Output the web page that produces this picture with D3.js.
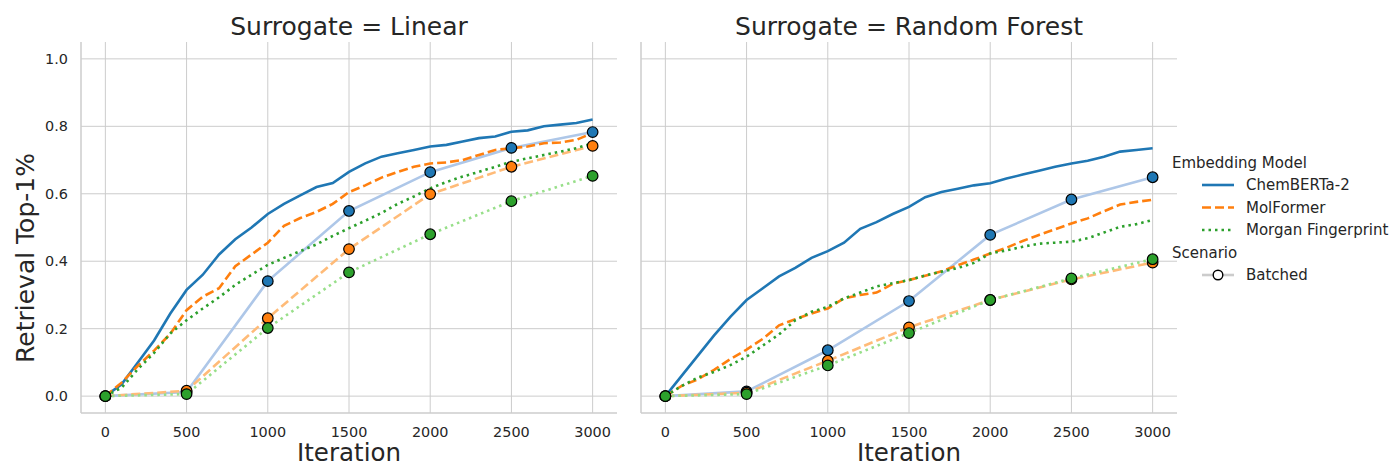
<!DOCTYPE html>
<html>
<head>
<meta charset="utf-8">
<script src="https://cdn.jsdelivr.net/npm/d3@7"></script>
<style>
  body { margin: 0; background: #fff; }
  svg { font-family: "DejaVu Sans", sans-serif; }
</style>
</head>
<body>
<svg id="svg" width="1396" height="468"></svg>
<script>
var width = 1396;
var height = 468;

// sequential runs, one value every 100 iterations
var iterations = d3.range(0, 3001, 100);
var batchIterations = [0, 500, 1000, 1500, 2000, 2500, 3000];
var models = ['ChemBERTa-2', 'MolFormer', 'Morgan Fingerprint'];
var surrogates = ['Linear', 'Random Forest'];

var linChem = [0, 0.035, 0.10, 0.165, 0.245, 0.315, 0.36, 0.42, 0.465, 0.50, 0.54, 0.57, 0.595, 0.62, 0.632, 0.665,
    0.69, 0.71, 0.72, 0.73, 0.74, 0.745, 0.755, 0.765, 0.77, 0.784, 0.788, 0.80, 0.805, 0.81, 0.82];
var linMol = [0, 0.04, 0.09, 0.135, 0.185, 0.255, 0.295, 0.32, 0.385, 0.42, 0.455, 0.505, 0.528, 0.546, 0.57, 0.605,
    0.625, 0.648, 0.665, 0.68, 0.69, 0.693, 0.70, 0.715, 0.73, 0.735, 0.74, 0.75, 0.752, 0.76, 0.78];
var linMorgan = [0, 0.025, 0.08, 0.128, 0.186, 0.225, 0.26, 0.293, 0.33, 0.36, 0.389, 0.41, 0.43, 0.45, 0.475, 0.498,
    0.52, 0.543, 0.57, 0.592, 0.616, 0.635, 0.651, 0.665, 0.68, 0.695, 0.705, 0.715, 0.725, 0.735, 0.75];
var rfChem = [0, 0.06, 0.12, 0.18, 0.235, 0.285, 0.32, 0.355, 0.38, 0.41, 0.43, 0.455, 0.496, 0.516, 0.54, 0.561,
    0.59, 0.605, 0.615, 0.625, 0.631, 0.645, 0.657, 0.668, 0.68, 0.69, 0.698, 0.71, 0.725, 0.73, 0.735];
var rfMol = [0, 0.03, 0.05, 0.078, 0.11, 0.138, 0.17, 0.21, 0.228, 0.245, 0.26, 0.29, 0.30, 0.307, 0.333, 0.344,
    0.357, 0.37, 0.388, 0.405, 0.423, 0.44, 0.46, 0.478, 0.495, 0.512, 0.527, 0.548, 0.568, 0.576, 0.582];
var rfMorgan = [0, 0.03, 0.055, 0.072, 0.092, 0.117, 0.15, 0.183, 0.225, 0.25, 0.265, 0.29, 0.307, 0.325, 0.335, 0.344,
    0.358, 0.369, 0.38, 0.395, 0.423, 0.432, 0.443, 0.452, 0.455, 0.458, 0.468, 0.485, 0.502, 0.51, 0.522];

// batched runs
var linChemB = [0, 0.012, 0.341, 0.549, 0.664, 0.736, 0.783];
var linMolB = [0, 0.016, 0.231, 0.436, 0.599, 0.68, 0.742];
var linMorganB = [0, 0.006, 0.202, 0.367, 0.48, 0.578, 0.653];
var rfChemB = [0, 0.014, 0.136, 0.282, 0.478, 0.583, 0.649];
var rfMolB = [0, 0.01, 0.105, 0.204, 0.285, 0.346, 0.396];
var rfMorganB = [0, 0.006, 0.091, 0.187, 0.285, 0.349, 0.406];

var xTicks = [0, 500, 1000, 1500, 2000, 2500, 3000];
var yTicks = [0, 0.2, 0.4, 0.6, 0.8, 1.0];

var seqData = [[linChem, linMol, linMorgan], [rfChem, rfMol, rfMorgan]];
var batchData = [[linChemB, linMolB, linMorganB], [rfChemB, rfMolB, rfMorganB]];

var dark = ['#1f77b4', '#ff7f0e', '#2ca02c'];
var light = ['#aec7e8', '#ffbb78', '#98df8a'];
var dashSeq = [null, '9,4', '2.5,4'];
var dashBatch = [null, '9,4', '2.5,4'];

var panelLeft = [81, 641];
var panelW = 536;
var plotTop = 42, plotBottom = 413;

var svg = d3.select('svg');

var y = d3.scaleLinear().domain([-0.05, 1.05]).range([plotBottom, plotTop]);

surrogates.forEach(function (s, p) {
    var x = d3.scaleLinear().domain([-150, 3150]).range([panelLeft[p], panelLeft[p] + panelW]);
    var g = svg.append('g');

    // grid
    g.selectAll('.gx').data(xTicks).enter().append('line')
        .attr('x1', function (d) { return x(d); }).attr('x2', function (d) { return x(d); })
        .attr('y1', plotTop).attr('y2', plotBottom)
        .attr('stroke', '#cccccc').attr('stroke-width', 1);
    g.selectAll('.gy').data(yTicks).enter().append('line')
        .attr('x1', panelLeft[p]).attr('x2', panelLeft[p] + panelW)
        .attr('y1', function (d) { return y(d); }).attr('y2', function (d) { return y(d); })
        .attr('stroke', '#cccccc').attr('stroke-width', 1);

    // spines
    g.append('line').attr('x1', panelLeft[p]).attr('x2', panelLeft[p])
        .attr('y1', plotTop).attr('y2', plotBottom).attr('stroke', '#cccccc').attr('stroke-width', 1.5);
    g.append('line').attr('x1', panelLeft[p]).attr('x2', panelLeft[p] + panelW)
        .attr('y1', plotBottom).attr('y2', plotBottom).attr('stroke', '#cccccc').attr('stroke-width', 1.5);

    // tick labels
    g.selectAll('.tx').data(xTicks).enter().append('text')
        .attr('x', function (d) { return x(d); }).attr('y', 437)
        .attr('text-anchor', 'middle').attr('font-size', 14.4).attr('fill', '#262626')
        .text(function (d) { return d; });
    if (p === 0) {
        g.selectAll('.ty').data(yTicks).enter().append('text')
            .attr('x', 68).attr('y', function (d) { return y(d) + 5; })
            .attr('text-anchor', 'end').attr('font-size', 14.4).attr('fill', '#262626')
            .text(function (d) { return d.toFixed(1); });
    }

    // titles
    g.append('text').attr('x', panelLeft[p] + panelW / 2).attr('y', 35)
        .attr('text-anchor', 'middle').attr('font-size', 25).attr('fill', '#262626')
        .text('Surrogate = ' + s);
    g.append('text').attr('x', panelLeft[p] + panelW / 2).attr('y', 461)
        .attr('text-anchor', 'middle').attr('font-size', 24.5).attr('fill', '#262626')
        .text('Iteration');

    var seqLine = d3.line()
        .x(function (d, i) { return x(iterations[i]); })
        .y(function (d) { return y(d); });
    var batchLine = d3.line()
        .x(function (d, i) { return x(batchIterations[i]); })
        .y(function (d) { return y(d); });

    // batched lines
    batchData[p].forEach(function (vals, m) {
        g.append('path').attr('d', batchLine(vals))
            .attr('fill', 'none').attr('stroke', light[m]).attr('stroke-width', 2.6)
            .attr('stroke-dasharray', dashBatch[m]);
    });

    // sequential lines
    seqData[p].forEach(function (vals, m) {
        g.append('path').attr('d', seqLine(vals))
            .attr('fill', 'none').attr('stroke', dark[m]).attr('stroke-width', 2.6)
            .attr('stroke-dasharray', dashSeq[m]);
    });

    // batched markers
    batchData[p].forEach(function (vals, m) {
        g.selectAll('.pt' + m).data(vals).enter().append('circle')
            .attr('cx', function (d, i) { return x(batchIterations[i]); })
            .attr('cy', function (d) { return y(d); })
            .attr('r', 5.3)
            .attr('fill', dark[m]).attr('stroke', '#000').attr('stroke-width', 1.2);
    });
});

// y label
svg.append('text')
    .attr('transform', 'translate(34,258) rotate(-90)')
    .attr('text-anchor', 'middle').attr('font-size', 25).attr('fill', '#262626')
    .text('Retrieval Top-1%');

// legend
var lg = svg.append('g').attr('font-size', 15).attr('fill', '#262626');
lg.append('text').attr('x', 1172).attr('y', 168).text('Embedding Model');
models.forEach(function (m, i) {
    var yy = 185 + i * 22.5;
    lg.append('line').attr('x1', 1202).attr('x2', 1234).attr('y1', yy).attr('y2', yy)
        .attr('stroke', dark[i]).attr('stroke-width', 2.6).attr('stroke-dasharray', dashSeq[i]);
    lg.append('text').attr('x', 1246).attr('y', yy + 5).text(m);
});
lg.append('text').attr('x', 1172).attr('y', 258).text('Scenario');
lg.append('line').attr('x1', 1202).attr('x2', 1234).attr('y1', 275).attr('y2', 275)
    .attr('stroke', '#cccccc').attr('stroke-width', 2.6);
lg.append('circle').attr('cx', 1218).attr('cy', 275).attr('r', 4.8)
    .attr('fill', '#fff').attr('stroke', '#000').attr('stroke-width', 1.4);
lg.append('text').attr('x', 1246).attr('y', 280).text('Batched');
</script>
</body>
</html>
